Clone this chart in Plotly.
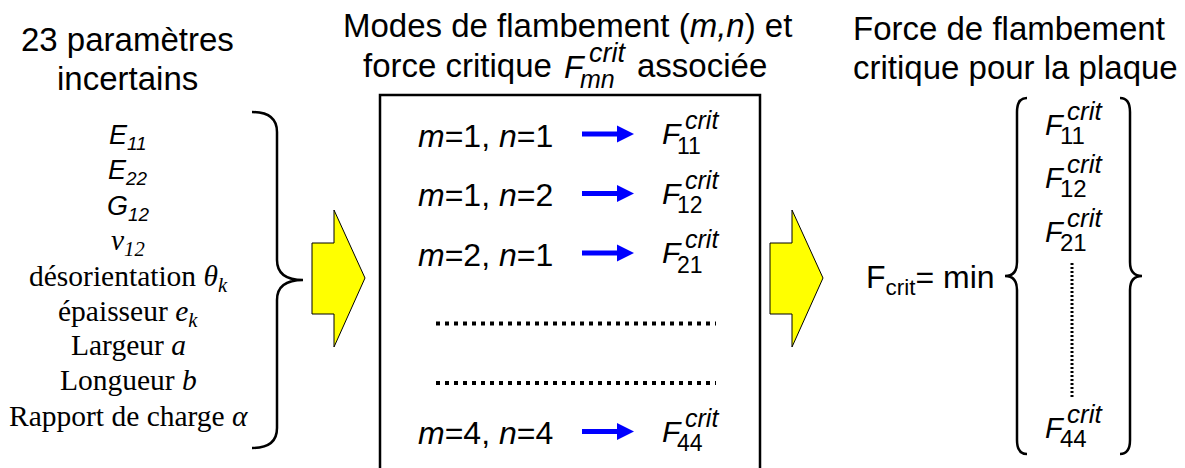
import plotly.graph_objects as go

# ---------------------------------------------------------------------------
# Content of the diagram
# ---------------------------------------------------------------------------
LEFT_TITLE = ["23 paramètres", "incertains"]
PARAMS_SANS = ["<i>E<sub>11</sub></i>", "<i>E<sub>22</sub></i>", "<i>G<sub>12</sub></i>"]
PARAMS_SERIF = [
    "<i>ν<sub>12</sub></i>",
    "désorientation <i>θ<sub>k</sub></i>",
    "épaisseur <i>e<sub>k</sub></i>",
    "Largeur <i>a</i>",
    "Longueur <i>b</i>",
    "Rapport de charge <i>α</i>",
]
MID_TITLE = ["Modes de flambement (<i>m,n</i>) et", "force critique", "mn", "associée"]
MODE_M = [1, 1, 2, 4]
MODE_N = [1, 2, 1, 4]
RIGHT_TITLE = ["Force de flambement", "critique pour la plaque"]
MIN_LABEL = "F<sub>crit</sub>= min"
MIN_SUBS = ["11", "12", "21", "44"]

# ---------------------------------------------------------------------------
# Geometry / style
# ---------------------------------------------------------------------------
W, H = 1185, 468
OFF = 8          # the page body has an 8px margin: shift the axes so x,y = screen px
SANS = "Liberation Sans, Arial, sans-serif"
SERIF = "Liberation Serif, Times New Roman, serif"
BLUE = "#0000FF"
YELLOW = "#FFFF00"

ann = []
shapes = []


def txt(x, base, s, size, fam=SANS, anchor="center"):
    # place text by its baseline (approx.)
    k = 0.23 if "<sub>" in s else 0.35
    ann.append(dict(
        x=x, y=base - k * size, text=s, showarrow=False,
        xanchor=anchor, yanchor="middle", borderpad=0,
        font=dict(family=fam, size=size, color="black"),
    ))


def fcrit(x0, base, sub, size=30, small=25, sub_italic=False):
    txt(x0, base, "<i>F</i>", size, anchor="left")
    s = f"<i>{sub}</i>" if sub_italic else sub
    txt(x0 + 0.5 * size, base + 0.32 * size, s, small - 2, anchor="left")
    txt(x0 + 0.77 * size, base - 0.5 * size, "<i>crit</i>", small, anchor="left")


def block_arrow(x0):
    shapes.append(dict(
        type="path",
        path=(f"M {x0},243 L {x0+22},243 L {x0+22},210 L {x0+53},278 "
              f"L {x0+22},347 L {x0+22},314 L {x0},314 Z"),
        fillcolor=YELLOW, line=dict(color="black", width=1),
    ))


def brace(xe, xv, xp, y0, ym, y1, r=18):
    # xe: end x, xv: vertical stroke x, xp: point x
    shapes.append(dict(
        type="path",
        path=(f"M {xe},{y0} Q {xv},{y0} {xv},{y0+r} L {xv},{ym-r} "
              f"Q {xv},{ym} {xp},{ym} Q {xv},{ym} {xv},{ym+r} "
              f"L {xv},{y1-r} Q {xv},{y1} {xe},{y1}"),
        line=dict(color="black", width=2.5),
    ))


# ---------------------------------------------------------------------------
# Left column: uncertain parameters
# ---------------------------------------------------------------------------
txt(127, 51, LEFT_TITLE[0], 33)
txt(127, 90, LEFT_TITLE[1], 33)

params = PARAMS_SANS + PARAMS_SERIF
for i, p in enumerate(params):
    fam = SANS if i < len(PARAMS_SANS) else SERIF
    size = 27 if i < len(PARAMS_SANS) else 29.5
    txt(128, 143 + i * 35.4, p, size, fam=fam)

brace(252, 277, 303, 112, 280, 448, r=20)
block_arrow(312)

# ---------------------------------------------------------------------------
# Middle: buckling modes box
# ---------------------------------------------------------------------------
txt(567, 37, MID_TITLE[0], 33)
txt(553, 77, MID_TITLE[1], 33, anchor="right")
fcrit(563, 78, MID_TITLE[2], 32, small=27, sub_italic=True)
txt(636, 77, MID_TITLE[3], 33, anchor="left")

shapes.append(dict(type="rect", x0=380, y0=95, x1=760, y1=490,
                   line=dict(color="black", width=2.5)))

step = 59.5
slots = list(range(len(MODE_M) - 1)) + [len(MODE_M) + 1]
for m, n, s in zip(MODE_M, MODE_N, slots):
    base = 147 + s * step
    txt(417, base, f"<i>m</i>={m}, <i>n</i>={n}", 32, anchor="left")
    ya = base - 13
    shapes.append(dict(type="line", x0=582, x1=620, y0=ya, y1=ya,
                       line=dict(color=BLUE, width=5)))
    shapes.append(dict(type="path",
                       path=f"M 617,{ya-8.5} L 634,{ya} L 617,{ya+8.5} Z",
                       fillcolor=BLUE, line=dict(width=0)))
    fcrit(661, base - 3, f"{m}{n}", 30, small=25)

for s in range(len(MODE_M) - 1, len(MODE_M) + 1):
    yd = 147 + s * step - 2
    shapes.append(dict(type="line", x0=436, x1=716, y0=yd, y1=yd,
                       line=dict(color="black", width=4, dash="4px,5px")))

block_arrow(770)

# ---------------------------------------------------------------------------
# Right: critical buckling force of the plate
# ---------------------------------------------------------------------------
txt(852, 40, RIGHT_TITLE[0], 33, anchor="left")
txt(852, 79, RIGHT_TITLE[1], 33, anchor="left")

txt(996, 287, MIN_LABEL, 32, anchor="right")

brace(1027, 1017, 1005, 98, 276, 454, r=14)
brace(1120, 1130, 1142, 98, 276, 454, r=14)

min_base = [135, 188, 242, 438]
for sub, b in zip(MIN_SUBS, min_base):
    fcrit(1044, b, sub, 29, small=26)

shapes.append(dict(type="line", x0=1072, x1=1072, y0=263, y1=398,
                   line=dict(color="black", width=3, dash="2px,2px")))

# ---------------------------------------------------------------------------
# Figure
# ---------------------------------------------------------------------------
fig = go.Figure()
fig.update_layout(
    width=W, height=H,
    margin=dict(l=0, r=0, t=0, b=0),
    plot_bgcolor="white", paper_bgcolor="white",
    showlegend=False,
    annotations=ann,
    shapes=shapes,
)
fig.update_xaxes(range=[OFF, W + OFF], visible=False, fixedrange=True)
fig.update_yaxes(range=[H + OFF, OFF], visible=False, fixedrange=True)

fig.write_html("out.html")
